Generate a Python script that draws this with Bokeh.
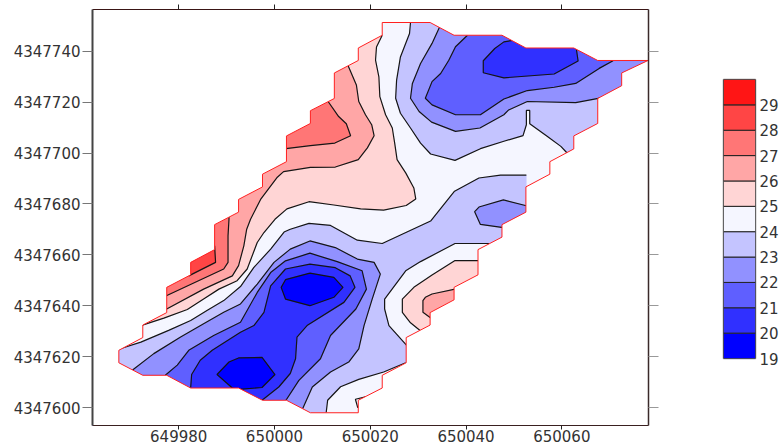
from bokeh.plotting import figure
from bokeh.models import Range1d, FixedTicker, LinearAxis
from bokeh.embed import file_html
from bokeh.resources import INLINE

# Easting / northing origin; contour vertices below are metres from this point
X0 = 650000
Y0 = 4347700

X_TICKS = [649980, 650000, 650020, 650040, 650060]
Y_TICKS = [4347600, 4347620, 4347640, 4347660, 4347680, 4347700, 4347720, 4347740]
LEVEL_EDGES = [19, 20, 21, 22, 23, 24, 25, 26, 27, 28, 29, 30]
BAND_COLORS = ["#0000FF", "#3030FF", "#5F5FFF", "#9191FF", "#C4C4FF", "#F5F6FF",
               "#FFD5D5", "#FFA6A6", "#FF7676", "#FF4545", "#FF1515"]

BOUNDARY = [(22.5,51.2),(32.5,51.2),(37.5,46.2),(47.5,46.2),(52.5,41.2),(62.5,41.2),(67.5,36.3),(78,36.3),
 (72.5,31.4),(72.5,26.4),(67.5,21.4),(67.5,11.6),(62.5,6.7),(62.5,1.6),(57.5,-3.4),(57.5,-8.3),(52.5,-13.3),
 (52.5,-23.2),(47.5,-28.1),(47.5,-33),(42.5,-37.9),(42.5,-47.8),(37.5,-52.7),(37.5,-57.6),(32.5,-62.6),
 (32.5,-67.5),(27.5,-72.4),(27.5,-82.3),(22.5,-87.2),(22.5,-92.2),(17.5,-97),(17.5,-101.9),(7.5,-101.9),
 (2.5,-97),(-2.5,-97),(-7.5,-92.2),(-17.5,-92.2),(-22.5,-87.2),(-27.5,-87.2),(-32.5,-82.3),(-32.5,-77.4),
 (-27.5,-72.4),(-27.5,-67.5),(-22.5,-62.6),(-22.5,-52.7),(-17.5,-47.8),(-17.5,-42.9),(-12.5,-37.9),
 (-12.5,-28.1),(-7.5,-23.2),(-7.5,-18.2),(-2.5,-13.3),(-2.5,-8.3),(2.5,-3.4),(2.5,6.7),(7.5,11.6),(7.5,16.6),
 (12.5,21.4),(12.5,31.4),(17.5,36.3),(17.5,41.2),(22.5,46.2)]

# Above-25 side
C25_NW = [(22.5,46.2),(21.3,41.6),(21.1,36.4),(21.8,29.9),(22,22.1),(23.2,15),(24.6,9.8),(25.1,3.9),(25.6,-2.6),
 (27.4,-7.8),(29.1,-13.7),(29.5,-18),(27.5,-20.6),(22.8,-22.4),(18,-21.9),(12.4,-20.4),(7.2,-19.1),(2.6,-21.9),
 (0.1,-26),(-2.2,-31.2),(-3.6,-35.1),(-5.7,-45.5),(-7.8,-50.1),(-11.6,-53.4),(-14.8,-57.3),(-18.2,-61.4),
 (-23.1,-64.8),(-27.9,-67.7)]
C26_NW = [(15.4,34.1),(17.1,26.7),(17.6,20.2),(19,15),(20.3,11.1),(20.8,6.8),(19.4,2),(17.5,-2.6),(12.7,-5.5),
 (7.5,-5.6),(1.9,-7.3),(0.6,-9.5),(-2.9,-18.2),(-5,-26),(-5.8,-29.9),(-6.4,-36.4),(-7.5,-44.2),(-8.8,-48.2),
 (-14.8,-53.4),(-22.8,-61.5)]
C27_N = [(11.2,20.2),(13.4,14.3),(15,11.5),(15.9,6.8),(12.6,3.9),(7.5,2.9),(2.4,1.7)]
C27_W = [(-9.5,-25),(-9.5,-26),(-9.7,-32.5),(-9.7,-42.9),(-10.6,-45.5),(-22.8,-56.2)]
C28_W = [(-12.5,-36.4),(-12.3,-42.9),(-17.9,-48.2)]
C25_SE = [(42.7,-42.2),(37.7,-42.2),(32.9,-47.9),(29.1,-52.7),(26.7,-57.3),(26.7,-62.5),(28.4,-66.6),(30.4,-69.6)]
C26_SE = [(37.7,-53.4),(32.9,-55.3),(31.5,-56.6),(31,-57.9),(31,-62.5),(32.7,-64.8)]

# Below-24 side
C24_NE = [(28.4,51.1),(28.2,46.9),(26.3,37.7),(25.5,28.6),(25.3,21.5),(26.3,15.6),(28.4,9.8),(30.5,3.9),(32.6,-0.4),
 (37.7,-2.9),(43,1.7),(47.9,4.6),(51.9,6.8),(52.6,11.1),(52.6,16.7),(53.3,16.7),(53.3,11.5),(57,6.5),(59.8,2.6),(61.1,0)]
C23_NE = [(34.5,49.5),(32.9,43),(30.5,35.1),(28.8,27.3),(28.4,21.5),(30.2,16.3),(32.8,12.1),(37.8,8.5),(42.9,9.8),
 (47.9,15),(48.9,16.9),(52.8,20.2),(62.9,19.8),(67.9,21.5)]
C22_NE = [(40.3,46.2),(37.8,41.7),(36.4,36.4),(34.7,31.2),(32.9,28),(31.5,21.5),(32.9,18.9),(37.8,15),(43,15),
 (47.9,21.2),(52.8,24.5),(58.4,25.8),(62.9,27.3),(67.8,33.2),(70.7,36.2)]
C21_NE = [(49.7,44.2),(47.9,43.6),(46,41),(43.6,36.2),(43.6,31.5),(47.9,29.5),(58.4,31),(63.4,36.1),(63,41.3)]

C24_MAIN = [(-32.9,-77.2),(-27.9,-74.2),(-22.1,-69.6),(-17.5,-65.7),(-14.1,-61.8),(-10.6,-57.9),(-7.1,-52.4),(-4.3,-44.9),
 (-0.8,-37.7),(2,-31),(3.3,-29.9),(7.2,-27.6),(11.7,-28.4),(17.3,-34.2),(22.5,-35.5),(32.6,-26.7),(37.6,-15),
 (42.7,-9.8),(47.2,-8.7),(52.6,-8.7)]
C24_TONGUE = [(44.8,-35.5),(37.7,-35.5),(30.5,-42.6),(27.4,-46.2),(23,-57.3),(23,-61.2),(23.9,-67.7),(27.6,-75.5)]
C24_SOUTH = [(27.4,-82.3),(22.8,-85.9),(17.6,-88.8),(13.8,-91.7),(11.1,-97),(10.8,-101.8)]
C24_SPUR = [(19,-95.7),(16.9,-96.6),(17.4,-100)]
C23_EAST = [(52.8,-20.8),(47.8,-18.4),(42.7,-21.2),(41.8,-23),(43,-28),(47.8,-29.3)]
C23_MAIN = [(-29.7,-85.2),(-25.2,-78.7),(-19.6,-72.2),(-14.8,-67),(-10.6,-62.5),(-7.1,-59.2),(-3.6,-51.4),(-0.1,-42.9),
 (3.3,-37.7),(7.4,-34.5),(12.7,-37.1),(17.3,-41.6),(20.8,-42.9),(22.1,-47.5),(20.4,-57.3),(18.7,-67.7),(17.6,-76.8),
 (15.5,-82),(11.7,-85.9),(7.9,-91.8),(5.9,-100.2)]
C22_MAIN = [(-22.8,-87.2),(-20.3,-83.2),(-17.9,-77.4),(-12.7,-71.6),(-7.1,-66.4),(-3.6,-54.7),(-0.8,-46.9),(2.3,-42.3),
 (7.4,-39.3),(13.1,-42.6),(18.3,-46.2),(19.2,-53.4),(17,-61.2),(11.7,-71.6),(9.6,-80.7),(5.1,-89.2),(2.4,-97)]
C21_MAIN = [(-17.5,-92.1),(-17.3,-86.9),(-15.5,-81.3),(-13,-77.4),(-7.1,-70.3),(-4.3,-67.7),(-2.2,-62.5),(-0.8,-52.1),
 (2.3,-45.5),(7.4,-43.6),(12.7,-45),(15.8,-48.2),(16.8,-52.7),(14.5,-58.6),(6.8,-67.7),(4.7,-72.2),(4.4,-80.7),
 (3.3,-86.5),(0.9,-91.8),(-2.6,-97)]
C20_NORTH = [(7.4,-47.1),(12.4,-48.8),(14.3,-52.7),(12.4,-56.6),(7.4,-59.9),(2.3,-57.3),(1.4,-52.7),(2.3,-49.7),(7.4,-47.1)]
C20_SOUTH = [(-8.8,-92.2),(-12,-86.9),(-9.5,-82),(-7.5,-80.4),(-2.6,-80.2),(0.1,-86.9),(-2.6,-92),(-7.5,-92.7)]


def ex(pts):
    return [X0 + a for a, _ in pts]


def ny(pts):
    return [Y0 + b for _, b in pts]


p = figure(width=700, height=444, output_backend="svg", toolbar_location=None,
           x_range=Range1d(X0 - 38.0, X0 + 78.1), y_range=Range1d(Y0 - 106.9, Y0 + 56.3),
           min_border_left=92, min_border_right=52, min_border_top=9, min_border_bottom=17,
           background_fill_color="white", border_fill_color="white", outline_line_color=None)
p.grid.visible = False

# Filled bands, painted from the middle class outward. Each tuple: colour, contour + points beyond the outline.
fills = [
    (BAND_COLORS[5], BOUNDARY),
    (BAND_COLORS[6], C25_NW + [(-40,-70),(-40,60),(22,60)]),
    (BAND_COLORS[7], C26_NW + [(-40,-62),(-40,60),(14,45)]),
    (BAND_COLORS[8], C27_N + [(0,1.7),(0,30),(10,30)]),
    (BAND_COLORS[8], C27_W + [(-40,-56),(-40,-20),(-9.5,-20)]),
    (BAND_COLORS[9], C28_W + [(-40,-48),(-40,-30),(-13,-30)]),
    (BAND_COLORS[6], C25_SE + [(45,-70),(45,-42.2)]),
    (BAND_COLORS[7], C26_SE + [(40,-65),(40,-53.4)]),
    (BAND_COLORS[4], C24_NE + [(90,0),(90,60),(28.4,60)]),
    (BAND_COLORS[3], C23_NE + [(90,21.5),(90,60),(34.5,60)]),
    (BAND_COLORS[2], C22_NE + [(90,36.2),(90,60),(40.3,60)]),
    (BAND_COLORS[1], C21_NE + [(63,50),(49.7,50)]),
    (BAND_COLORS[4], C24_MAIN + [(52.6,-14),(60,-14),(60,-35.5)] + C24_TONGUE + [(35,-78),(35,-83)] + C24_SOUTH
        + [(10.8,-112),(-45,-112),(-45,-78)]),
    (BAND_COLORS[3], C23_EAST + [(60,-30),(60,-20.8)]),
    (BAND_COLORS[3], C23_MAIN + [(5.9,-112),(-45,-112),(-45,-85)]),
    (BAND_COLORS[2], C22_MAIN + [(2.4,-112),(-45,-112),(-45,-87)]),
    (BAND_COLORS[1], C21_MAIN + [(-2.6,-112),(-45,-112),(-45,-92)]),
    (BAND_COLORS[0], C20_NORTH),
    (BAND_COLORS[0], C20_SOUTH),
]
p.patches([ex(f[1]) for f in fills], [ny(f[1]) for f in fills],
          fill_color=[f[0] for f in fills], line_color=[f[0] for f in fills], line_width=0.3)

lines = [C25_NW, C26_NW, C27_N, C27_W, C28_W, C25_SE, C26_SE, C24_NE, C23_NE, C22_NE, C21_NE, C24_MAIN,
         C24_TONGUE, C24_SOUTH, C24_SPUR, C23_EAST, C23_MAIN, C22_MAIN, C21_MAIN, C20_NORTH,
         C20_SOUTH + [C20_SOUTH[0]]]
p.multi_line([ex(l) for l in lines], [ny(l) for l in lines], line_color="#151515", line_width=1.2)

# White surround with the survey outline as its hole
frame_box = [(-45,-115),(95,-115),(95,65),(-45,65)]
p.multi_polygons(xs=[[[ex(frame_box), ex(BOUNDARY)]]], ys=[[[ny(frame_box), ny(BOUNDARY)]]],
                 fill_color="white", line_color=None)
closed = BOUNDARY + [BOUNDARY[0]]
p.line(ex(closed), ny(closed), line_color="#FF2020", line_width=1)

FONT = "DejaVu Sans"
TXT = "#333333"
for ax in p.xaxis:
    ax.ticker = FixedTicker(ticks=X_TICKS)
    ax.major_tick_out = 4
    ax.major_tick_in = 0
    ax.minor_tick_line_color = None
    ax.axis_line_color = "#3a2020"
    ax.major_tick_line_color = "#222222"
    ax.major_label_text_font = FONT
    ax.major_label_text_font_size = "15px"
    ax.major_label_text_color = TXT
    ax.major_label_standoff = 0
    ax.formatter.use_scientific = False
for ax in p.yaxis:
    ax.ticker = FixedTicker(ticks=Y_TICKS)
    ax.major_tick_out = 10
    ax.major_tick_in = 0
    ax.minor_tick_line_color = None
    ax.axis_line_color = "#444444"
    ax.axis_line_width = 2
    ax.major_tick_line_color = "#777777"
    ax.major_label_text_font = FONT
    ax.major_label_text_font_size = "15px"
    ax.major_label_text_color = TXT
    ax.major_label_standoff = 2
    ax.formatter.use_scientific = False

top = LinearAxis(ticker=FixedTicker(ticks=X_TICKS), major_tick_out=5, major_tick_in=0, major_label_standoff=0,
                 minor_tick_line_color=None, axis_line_color="#3a1515", major_tick_line_color="#222222",
                 major_label_text_color=None, major_label_text_font_size="1px")
right = LinearAxis(ticker=FixedTicker(ticks=Y_TICKS), major_tick_out=10, major_tick_in=0, major_label_standoff=0,
                   minor_tick_line_color=None, axis_line_color="#3a2a2a", axis_line_width=1.5,
                   major_tick_line_color="#999999", major_label_text_color=None, major_label_text_font_size="1px")
p.add_layout(top, "above")
p.add_layout(right, "right")

# Colour key
key = figure(width=81, height=444, output_backend="svg", toolbar_location=None, y_axis_location="right",
             x_range=Range1d(0, 1), y_range=Range1d(LEVEL_EDGES[0], LEVEL_EDGES[-1]),
             min_border_left=23, min_border_right=25, min_border_top=79, min_border_bottom=86,
             outline_line_color="#888888", outline_line_width=1.5,
             background_fill_color="white", border_fill_color="white")
key.grid.visible = False
key.xaxis.visible = False
key.quad(left=0, right=1, bottom=LEVEL_EDGES[:-1], top=LEVEL_EDGES[1:], fill_color=BAND_COLORS,
         line_color="#222222", line_width=1)
for ax in key.yaxis:
    ax.ticker = FixedTicker(ticks=LEVEL_EDGES[:-1])
    ax.major_tick_out = 0
    ax.major_tick_in = 0
    ax.minor_tick_line_color = None
    ax.axis_line_color = None
    ax.major_label_text_font = FONT
    ax.major_label_text_font_size = "15px"
    ax.major_label_text_color = TXT
    ax.major_label_standoff = 4

p.styles = {"position": "absolute", "left": "0px", "top": "0px"}
key.styles = {"position": "absolute", "left": "700px", "top": "0px"}

open("out.html", "w").write(file_html([p, key], INLINE))
